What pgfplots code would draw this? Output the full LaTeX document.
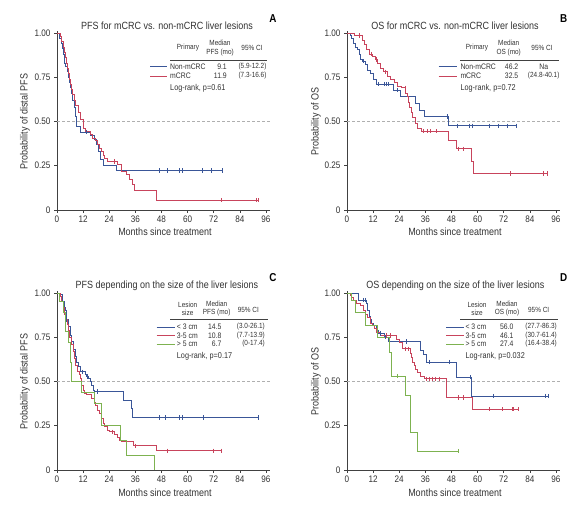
\documentclass[border=0pt]{standalone}
\usepackage{fontspec}
\setmainfont{Liberation Sans}[FakeStretch=0.86]
\usepackage{pgfplots}
\pgfplotsset{compat=1.18}
\definecolor{kmblue}{RGB}{58,86,152}
\definecolor{kmred}{RGB}{200,68,92}
\definecolor{kmgreen}{RGB}{125,178,80}
\definecolor{txt}{RGB}{50,50,50}
\definecolor{axc}{RGB}{65,65,65}
\definecolor{dashc}{RGB}{175,175,175}
\newcommand\fs[1]{\fontsize{#1}{#1}\selectfont}
\pgfplotsset{
 kmaxis/.style={
  scale only axis, width=213.3bp, height=178.8bp,
  xmin=0, xmax=98, ymin=0, ymax=1.01,
  axis x line*=bottom, axis y line*=left,
  xtick={0,12,24,36,48,60,72,84,96}, xticklabels={0,12,24,36,48,60,72,84,96},
  ytick={0,0.25,0.5,0.75,1}, yticklabels={0,0.25,0.50,0.75,1.00},
  tick align=outside, major tick length=3bp,
  tick style={color=axc, line width=0.6pt},
  axis line style={color=axc, line width=0.75pt},
  tick label style={font=\fs{9.5}, text=txt},
  xticklabel style={yshift=1bp},
  clip=false, anchor=south west,
 },
 km/.style={const plot, line width=0.9pt, no marks},
 cens/.style={only marks, mark=|, mark size=2.2bp, mark options={line width=0.7pt}},
 half/.style={dashc, dash pattern=on 3bp off 2bp, line width=0.6pt, no marks},
}
\begin{document}
\begin{tikzpicture}[x=1bp,y=1bp]
\path[use as bounding box] (0,0) rectangle (584,507);

% ---------------- Panel A ----------------
\begin{axis}[kmaxis, at={(57bp,297bp)}]
\addplot[half] coordinates {(0,0.5) (98,0.5)};
\addplot[km, kmblue] coordinates {(0,1)(1.2,0.97)(2,0.94)(2.6,0.91)(3,0.88)(3.5,0.83)(4,0.81)(4.8,0.78)(5.3,0.75)(5.8,0.72)(6.3,0.69)(6.8,0.66)(7.3,0.62)(7.8,0.58)(8.3,0.53)(9,0.47)(10.6,0.44)(15.2,0.42)(17.2,0.40)(18.2,0.37)(19,0.33)(19.8,0.285)(21.3,0.252)(27.1,0.222)(75.8,0.222)};
\addplot[cens, kmblue] coordinates {(13.6,0.44)(47,0.222)(50.5,0.222)(50.9,0.222)(56,0.222)(57.6,0.222)(67,0.222)(71,0.222)(75.8,0.222)};
\addplot[km, kmred] coordinates {(0,1)(1.5,0.98)(2.2,0.95)(2.8,0.92)(3.3,0.89)(3.8,0.86)(4.3,0.83)(4.8,0.80)(5.3,0.77)(5.8,0.74)(6.3,0.71)(6.8,0.68)(7.3,0.65)(7.8,0.62)(8.3,0.59)(10,0.55)(11,0.51)(12,0.46)(13.2,0.445)(15.5,0.425)(16.5,0.405)(17.5,0.39)(18.5,0.37)(19.5,0.35)(20.5,0.33)(21.3,0.31)(22,0.29)(23,0.275)(28,0.255)(29.7,0.22)(31.9,0.20)(33.5,0.17)(34.6,0.143)(35.5,0.111)(45.8,0.055)(92.3,0.055)};
\addplot[cens, kmred] coordinates {(26.3,0.275)(75.3,0.055)(91.6,0.055)(92.3,0.055)};
\end{axis}
\node[font=\fs{10.5}, text=txt] at (167,481) {PFS for mCRC vs. non-mCRC liver lesions};
\node[font=\bfseries\fs{11.5}] at (273,488) {A};
\node[font=\fs{10.5}, text=txt, rotate=90] at (25,385.5) {Probability of distal PFS};
\node[font=\fs{10.5}, text=txt] at (165,275) {Months since treatment};
\node[font=\fs{7.5}, text=txt] at (188,459) {Primary};
\node[font=\fontsize{7.5}{9.5}\selectfont, text=txt, align=center] at (220,459) {Median\\PFS (mo)};
\node[font=\fs{7.5}, text=txt] at (252,459) {95\% CI};
\draw[axc, line width=0.75pt] (170,447) -- (267,447);
\draw[kmblue, line width=0.9pt] (150,440.3) -- (167,440.3);
\draw[kmred, line width=0.9pt] (150,431) -- (167,431);
\node[font=\fs{8}, text=txt, anchor=west, inner sep=0] at (170,440.3) {Non-mCRC};
\node[font=\fs{8}, text=txt, anchor=west, inner sep=0] at (170,431) {mCRC};
\node[font=\fs{8}, text=txt, anchor=east, inner sep=0] at (227,440.3) {9.1};
\node[font=\fs{8}, text=txt, anchor=east, inner sep=0] at (227,431) {11.9};
\node[font=\fs{7.5}, text=txt] at (252.5,440.3) {(5.9-12.2)};
\node[font=\fs{7.5}, text=txt] at (252.5,431) {(7.3-16.6)};
\node[font=\fs{8.5}, text=txt, anchor=west, inner sep=0] at (170,419) {Log-rank, p=0.61};

% ---------------- Panel B ----------------
\begin{axis}[kmaxis, at={(347bp,297bp)}]
\addplot[half] coordinates {(0,0.5) (98,0.5)};
\addplot[km, kmblue] coordinates {(0,1)(1.5,0.985)(2.1,0.97)(2.9,0.94)(4,0.92)(4.9,0.905)(5.5,0.88)(6.1,0.85)(7,0.84)(8.6,0.82)(9.5,0.79)(10.6,0.77)(12.1,0.735)(13.3,0.71)(21.4,0.678)(24.6,0.64)(31.3,0.60)(33.3,0.565)(35.8,0.527)(46.6,0.476)(78,0.476)};
\addplot[cens, kmblue] coordinates {(7.6,0.84)(14.5,0.71)(17.2,0.71)(18.3,0.71)(19.1,0.71)(22.9,0.678)(46.2,0.527)(50.8,0.476)(56.4,0.476)(57.4,0.476)(65.4,0.476)(69.7,0.476)(73.8,0.476)(78,0.476)};
\addplot[km, kmred] coordinates {(0,1)(3.2,0.985)(7.3,0.96)(8,0.935)(9,0.905)(10.2,0.88)(11.6,0.865)(12.9,0.85)(13.8,0.825)(15.2,0.80)(16.7,0.78)(18.7,0.755)(19.8,0.735)(21.7,0.72)(23.3,0.70)(25,0.69)(26.9,0.66)(27.8,0.64)(28.3,0.61)(28.9,0.58)(29.4,0.55)(30.2,0.52)(31.4,0.49)(32.5,0.46)(34,0.445)(46.4,0.39)(50.2,0.345)(57.3,0.275)(58,0.205)(92,0.205)};
\addplot[cens, kmred] coordinates {(5.5,0.985)(11,0.88)(13.3,0.85)(17.8,0.78)(26.7,0.69)(35.2,0.445)(36.7,0.445)(38.3,0.445)(40.9,0.445)(51.3,0.345)(53.3,0.345)(75,0.205)(90.3,0.205)(92,0.205)};
\end{axis}
\node[font=\fs{10.5}, text=txt] at (455,481) {OS for mCRC vs. non-mCRC liver lesions};
\node[font=\bfseries\fs{11.5}] at (563.7,488) {B};
\node[font=\fs{10.5}, text=txt, rotate=90] at (316,385.5) {Probability of OS};
\node[font=\fs{10.5}, text=txt] at (455,275.3) {Months since treatment};
\node[font=\fs{7.5}, text=txt] at (477,459) {Primary};
\node[font=\fontsize{7.5}{9.5}\selectfont, text=txt, align=center] at (508.7,459) {Median\\OS (mo)};
\node[font=\fs{7.5}, text=txt] at (542,459) {95\% CI};
\draw[axc, line width=0.75pt] (460,447) -- (558.7,447);
\draw[kmblue, line width=0.9pt] (438.7,440.3) -- (457,440.3);
\draw[kmred, line width=0.9pt] (438.7,431) -- (457,431);
\node[font=\fs{8}, text=txt, anchor=west, inner sep=0] at (460.3,440.3) {Non-mCRC};
\node[font=\fs{8}, text=txt, anchor=west, inner sep=0] at (460.3,431) {mCRC};
\node[font=\fs{8}, text=txt, anchor=east, inner sep=0] at (518.5,440.3) {46.2};
\node[font=\fs{8}, text=txt, anchor=east, inner sep=0] at (518.5,431) {32.5};
\node[font=\fs{8}, text=txt] at (543.7,440.3) {Na};
\node[font=\fs{7.5}, text=txt] at (543.7,431) {(24.8-40.1)};
\node[font=\fs{8.5}, text=txt, anchor=west, inner sep=0] at (460.3,419) {Log-rank, p=0.72};

% ---------------- Panel C ----------------
\begin{axis}[kmaxis, at={(57bp,37bp)}]
\addplot[half] coordinates {(0,0.5) (98,0.5)};
\addplot[km, kmblue] coordinates {(0,1)(1.5,0.99)(2.5,0.95)(3.2,0.92)(3.7,0.90)(4.4,0.85)(5.2,0.81)(6,0.76)(6.7,0.725)(7.5,0.68)(8.3,0.64)(9,0.61)(9.8,0.585)(10.6,0.555)(12.9,0.54)(13.6,0.527)(14.4,0.518)(15.2,0.50)(15.9,0.48)(16.7,0.452)(17.2,0.443)(30.5,0.395)(34,0.35)(34.6,0.296)(92.5,0.296)};
\addplot[cens, kmblue] coordinates {(4.4,0.85)(11.5,0.555)(14,0.527)(18.7,0.443)(47,0.296)(50,0.296)(56.2,0.296)(57.7,0.296)(67.2,0.296)(92.5,0.296)};
\addplot[km, kmred] coordinates {(0,1)(1.5,0.98)(2.2,0.95)(2.8,0.92)(3.4,0.88)(4,0.85)(4.6,0.82)(5.2,0.79)(5.8,0.75)(6.7,0.71)(7.5,0.67)(8,0.63)(8.6,0.59)(9.5,0.555)(10.1,0.537)(10.6,0.518)(11.3,0.48)(12.1,0.452)(12.6,0.433)(13.6,0.424)(15.9,0.405)(17.2,0.382)(17.8,0.367)(18.7,0.339)(19.4,0.32)(20.5,0.292)(21.3,0.264)(22,0.245)(23.3,0.226)(24.3,0.216)(26.6,0.2)(27.7,0.183)(28.9,0.168)(29.7,0.16)(35,0.137)(45.8,0.109)(75.6,0.109)};
\addplot[cens, kmred] coordinates {(25.5,0.216)(35.8,0.137)(50.8,0.109)(71.8,0.109)(75.6,0.109)};
\addplot[km, kmgreen] coordinates {(0,1)(1,0.95)(2.9,0.89)(3.7,0.78)(5.2,0.72)(6.4,0.61)(6.7,0.5)(11.3,0.44)(17.2,0.377)(20.3,0.254)(29.3,0.166)(32,0.083)(44.7,0)};
\end{axis}
\node[font=\fs{10.5}, text=txt] at (167,220.7) {PFS depending on the size of the liver lesions};
\node[font=\bfseries\fs{11.5}] at (273,229) {C};
\node[font=\fs{10.5}, text=txt, rotate=90] at (25,125.5) {Probability of distal PFS};
\node[font=\fs{10.5}, text=txt] at (165,14.7) {Months since treatment};
\node[font=\fontsize{7.5}{8.3}\selectfont, text=txt, align=center] at (187.7,198.2) {Lesion\\size};
\node[font=\fontsize{7.5}{8.3}\selectfont, text=txt, align=center] at (216.7,198.2) {Median\\PFS (mo)};
\node[font=\fs{7.5}, text=txt] at (248.3,197.3) {95\% CI};
\draw[axc, line width=0.75pt] (170,188) -- (268,188);
\draw[kmblue, line width=0.9pt] (156.7,180) -- (175,180);
\draw[kmred, line width=0.9pt] (156.7,171.7) -- (175,171.7);
\draw[kmgreen, line width=0.9pt] (156.7,163) -- (175,163);
\node[font=\fs{8}, text=txt, anchor=west, inner sep=0] at (176.7,180) {< 3 cm};
\node[font=\fs{8}, text=txt, anchor=west, inner sep=0] at (176.7,171.7) {3-5 cm};
\node[font=\fs{8}, text=txt, anchor=west, inner sep=0] at (176.7,163) {> 5 cm};
\node[font=\fs{8}, text=txt, anchor=east, inner sep=0] at (221.7,180) {14.5};
\node[font=\fs{8}, text=txt, anchor=east, inner sep=0] at (221.7,171.7) {10.8};
\node[font=\fs{8}, text=txt, anchor=east, inner sep=0] at (221.7,163) {6.7};
\node[font=\fs{7.5}, text=txt, anchor=east, inner sep=0] at (265,180) {(3.0-26.1)};
\node[font=\fs{7.5}, text=txt, anchor=east, inner sep=0] at (265,171.7) {(7.7-13.9)};
\node[font=\fs{7.5}, text=txt, anchor=east, inner sep=0] at (265,163) {(0-17.4)};
\node[font=\fs{8.5}, text=txt, anchor=west, inner sep=0] at (176.7,150.7) {Log-rank, p=0.17};

% ---------------- Panel D ----------------
\begin{axis}[kmaxis, at={(347bp,37bp)}]
\addplot[half] coordinates {(0,0.5) (98,0.5)};
\addplot[km, kmblue] coordinates {(0,1)(5.2,0.96)(9,0.94)(9.5,0.90)(10.1,0.87)(10.6,0.85)(11,0.83)(12.1,0.815)(13.6,0.787)(14.4,0.77)(17.2,0.75)(19,0.725)(33.7,0.675)(35,0.655)(36.5,0.61)(50.4,0.524)(57,0.418)(92.6,0.418)};
\addplot[cens, kmblue] coordinates {(7.5,0.96)(8.6,0.96)(15.5,0.77)(17.8,0.75)(27.3,0.725)(37.7,0.61)(46.9,0.61)(56.5,0.524)(67.4,0.418)(91.1,0.418)(92.6,0.418)};
\addplot[km, kmred] coordinates {(0,1)(1.4,0.985)(2.1,0.975)(2.9,0.96)(4.4,0.94)(6,0.93)(7.5,0.90)(8.6,0.88)(9.5,0.86)(10.6,0.83)(11.6,0.815)(12.6,0.80)(13.6,0.777)(15.2,0.76)(22.8,0.74)(24,0.72)(25.3,0.685)(29.1,0.66)(29.7,0.635)(30.2,0.61)(30.9,0.59)(31.6,0.57)(32.3,0.55)(33.8,0.53)(35.4,0.515)(45.8,0.41)(57.6,0.343)(78.5,0.343)};
\addplot[cens, kmred] coordinates {(18,0.76)(20,0.76)(26.8,0.685)(28.3,0.685)(36.6,0.515)(37.8,0.515)(39.2,0.515)(40.4,0.515)(42.3,0.515)(51,0.41)(53.4,0.41)(65.4,0.343)(71.5,0.343)(75.8,0.343)(76.6,0.343)(78.5,0.343)};
\addplot[km, kmgreen] coordinates {(0,1)(2.1,0.955)(4,0.89)(8.3,0.815)(14,0.75)(19.4,0.665)(20.5,0.53)(27,0.42)(29,0.21)(32.5,0.107)(51.1,0.107)};
\addplot[cens, kmgreen] coordinates {(23,0.53)(51.1,0.107)};
\end{axis}
\node[font=\fs{10.5}, text=txt] at (455.3,220.7) {OS depending on the size of the liver lesions};
\node[font=\bfseries\fs{11.5}] at (563.7,229) {D};
\node[font=\fs{10.5}, text=txt, rotate=90] at (316,125.5) {Probability of OS};
\node[font=\fs{10.5}, text=txt] at (455,14.7) {Months since treatment};
\node[font=\fontsize{7.5}{8.3}\selectfont, text=txt, align=center] at (477,198.2) {Lesion\\size};
\node[font=\fontsize{7.5}{8.3}\selectfont, text=txt, align=center] at (507,198.2) {Median\\OS (mo)};
\node[font=\fs{7.5}, text=txt] at (538.7,197.3) {95\% CI};
\draw[axc, line width=0.75pt] (460,188) -- (557.7,188);
\draw[kmblue, line width=0.9pt] (446,180) -- (463.7,180);
\draw[kmred, line width=0.9pt] (446,171.7) -- (463.7,171.7);
\draw[kmgreen, line width=0.9pt] (446,163) -- (463.7,163);
\node[font=\fs{8}, text=txt, anchor=west, inner sep=0] at (465.3,180) {< 3 cm};
\node[font=\fs{8}, text=txt, anchor=west, inner sep=0] at (465.3,171.7) {3-5 cm};
\node[font=\fs{8}, text=txt, anchor=west, inner sep=0] at (465.3,163) {> 5 cm};
\node[font=\fs{8}, text=txt, anchor=east, inner sep=0] at (513.7,180) {56.0};
\node[font=\fs{8}, text=txt, anchor=east, inner sep=0] at (513.7,171.7) {46.1};
\node[font=\fs{8}, text=txt, anchor=east, inner sep=0] at (513.7,163) {27.4};
\node[font=\fs{7.5}, text=txt, anchor=east, inner sep=0] at (557,180) {(27.7-86.3)};
\node[font=\fs{7.5}, text=txt, anchor=east, inner sep=0] at (557,171.7) {(30.7-61.4)};
\node[font=\fs{7.5}, text=txt, anchor=east, inner sep=0] at (557,163) {(16.4-38.4)};
\node[font=\fs{8.5}, text=txt, anchor=west, inner sep=0] at (465.3,150.7) {Log-rank, p=0.032};
\end{tikzpicture}
\end{document}
